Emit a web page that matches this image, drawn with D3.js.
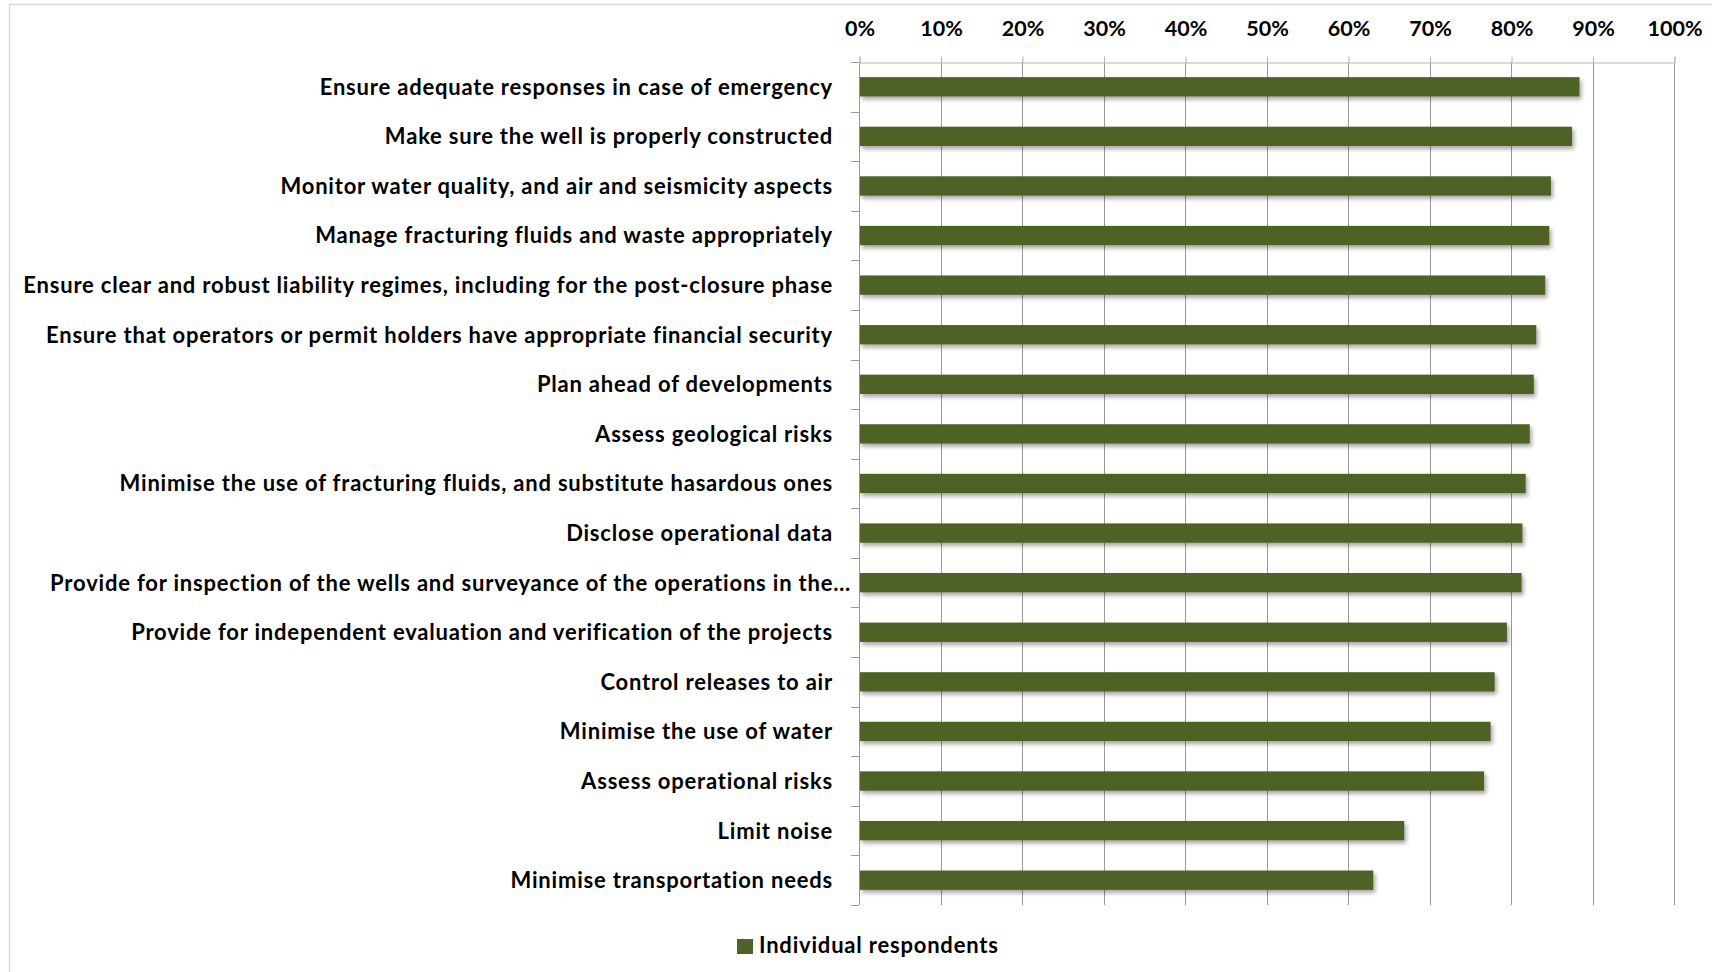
<!DOCTYPE html>
<html>
<head>
<meta charset="utf-8">
<script src="https://cdn.jsdelivr.net/npm/d3@7"></script>
<style>
  html, body { margin: 0; padding: 0; background: #fff; }
  svg { display: block; }
  text { font-family: Lato, "Open Sans", sans-serif; font-weight: 700; fill: #000; }
</style>
</head>
<body>
<svg id="chart" width="1712" height="972"></svg>
<script>
const categories = [
  "Ensure adequate responses in case of emergency",
  "Make sure the well is properly constructed",
  "Monitor water quality, and air and seismicity aspects",
  "Manage fracturing fluids and waste appropriately",
  "Ensure clear and robust liability regimes, including for the post-closure phase",
  "Ensure that operators or permit holders have appropriate financial security",
  "Plan ahead of developments",
  "Assess geological risks",
  "Minimise the use of fracturing fluids, and substitute hasardous ones",
  "Disclose operational data",
  "Provide for inspection of the wells and surveyance of the operations in the…",
  "Provide for independent evaluation and verification of the projects",
  "Control releases to air",
  "Minimise the use of water",
  "Assess operational risks",
  "Limit noise",
  "Minimise transportation needs"
];
const individualRespondents = [88.4, 87.5, 84.9, 84.7, 84.2, 83.1, 82.8, 82.3, 81.8, 81.4, 81.3, 79.5, 78.0, 77.5, 76.7, 66.9, 63.1];
const tickValues = [0, 10, 20, 30, 40, 50, 60, 70, 80, 90, 100];
const seriesName = "Individual respondents";

const svg = d3.select("#chart");
const barColor = "#4f6228";

// outer frame
svg.append("rect").attr("x", 9.5).attr("y", 4.5).attr("width", 1720).attr("height", 990)
  .attr("fill", "#fff").attr("stroke", "#d9d9d9").attr("stroke-width", 1.5);

const defs = svg.append("defs");
const f = defs.append("filter").attr("id", "shadow").attr("x", "-5%").attr("y", "-50%").attr("width", "110%").attr("height", "220%");
f.append("feDropShadow").attr("dx", 2).attr("dy", 3).attr("stdDeviation", 2)
  .attr("flood-color", "#000").attr("flood-opacity", 0.35);

const x = d3.scaleLinear().domain([0, 100]).range([859, 1674]);
const yOuter = d3.scaleBand().domain(categories).range([62, 905]).padding(0);
const y = d3.scaleBand().domain(categories).range([62, 905]).paddingInner(0.61).paddingOuter(0.305);

// vertical gridlines
svg.append("g").selectAll("line").data(tickValues).join("line")
  .attr("x1", d => Math.round(x(d)) + 0.5).attr("x2", d => Math.round(x(d)) + 0.5)
  .attr("y1", 62).attr("y2", 905)
  .attr("stroke", "#9a9a9a").attr("stroke-width", 1);

// top axis
const xAxis = d3.axisTop(x).tickValues(tickValues).tickFormat(d => d + "%").tickSize(6).tickPadding(21);
const gx = svg.append("g").attr("transform", "translate(0.5,62.5)").call(xAxis);
gx.select(".domain").attr("stroke", "#b5b5b5");
gx.selectAll(".tick line").attr("stroke", "#b5b5b5");
gx.selectAll(".tick text").attr("font-size", 21.5).attr("font-family", "Lato").attr("font-weight", 700).attr("fill", "#000");

// left axis line and boundary ticks
svg.append("line").attr("x1", x(0) + 0.5).attr("x2", x(0) + 0.5).attr("y1", 62).attr("y2", 905)
  .attr("stroke", "#9a9a9a");
const boundaries = categories.map(c => yOuter(c)).concat([yOuter.range()[1]]);
svg.append("g").selectAll("line").data(boundaries).join("line")
  .attr("x1", x(0) - 8).attr("x2", x(0))
  .attr("y1", d => Math.round(d) + 0.5).attr("y2", d => Math.round(d) + 0.5)
  .attr("stroke", "#9a9a9a");

// bars
svg.append("g").selectAll("rect").data(categories).join("rect")
  .attr("x", x(0) + 1)
  .attr("y", c => y(c))
  .attr("width", (c, i) => x(individualRespondents[i]) - x(0) - 1)
  .attr("height", y.bandwidth())
  .attr("fill", barColor)
  .attr("filter", "url(#shadow)");

// category labels
svg.append("g").selectAll("text").data(categories).join("text")
  .attr("x", c => c.endsWith("…") ? x(0) - 8 : x(0) - 26)
  .attr("y", c => y(c) + y.bandwidth() / 2)
  .attr("dy", "0.36em")
  .attr("text-anchor", "end")
  .attr("font-size", 22)
  .attr("letter-spacing", 0.8)
  .text(c => c);

// legend
const lg = svg.append("g").attr("transform", "translate(737,939)");
lg.append("rect").attr("width", 16).attr("height", 15).attr("fill", barColor);
lg.append("text").attr("x", 22).attr("y", 14).attr("font-size", 22).attr("letter-spacing", 0.8).text(seriesName);
</script>
</body>
</html>
